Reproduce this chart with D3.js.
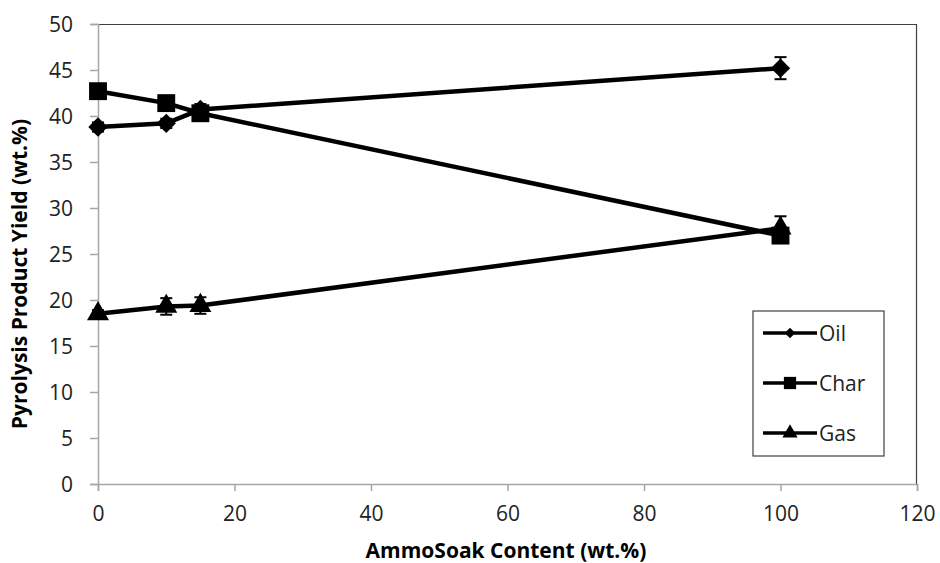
<!DOCTYPE html>
<html>
<head>
<meta charset="utf-8">
<script src="https://cdn.jsdelivr.net/npm/d3@7"></script>
<style>
  body { margin: 0; background: #fff; }
  text { font-family: 'Open Sans', sans-serif; }
</style>
</head>
<body>
<div id="chart"></div>
<script>
// AmmoSoak content (x) and yields per product
const content = [0, 10, 15, 100];
const oilYield = [38.8, 39.2, 40.7, 45.2];
const oilErr = [0.5, 0.5, 0.6, 1.2];
const charYield = [42.7, 41.4, 40.3, 27.0];
const charErr = [0.5, 0.5, 0.5, 0.6];
const gasYield = [18.5, 19.3, 19.4, 27.8];
const gasErr = [0.4, 0.9, 0.9, 1.3];
const seriesNames = ['Oil', 'Char', 'Gas'];
const xTicks = [0, 20, 40, 60, 80, 100, 120];
const yTicks = [0, 5, 10, 15, 20, 25, 30, 35, 40, 45, 50];

const W = 940, H = 563;
const margin = { top: 24, right: 23, bottom: 79, left: 98 };
const width = W - margin.left - margin.right,
  height = H - margin.top - margin.bottom;

const svg = d3.select('#chart').append('svg')
  .attr('width', W).attr('height', H);
const g = svg.append('g')
  .attr('transform', 'translate(' + margin.left + ',' + margin.top + ')');

const x = d3.scaleLinear().domain([0, 120]).range([0, width]);
const y = d3.scaleLinear().domain([0, 50]).range([height, 0]);

// Frame: top and right are dark, axes are gray
g.append('line').attr('x1', 0).attr('x2', width).attr('y1', 0.5).attr('y2', 0.5)
  .attr('stroke', '#404040').attr('stroke-width', 1.2);
g.append('line').attr('x1', width - 0.5).attr('x2', width - 0.5).attr('y1', 0).attr('y2', height)
  .attr('stroke', '#404040').attr('stroke-width', 1.2);

// X axis
const xAxis = g.append('g')
  .attr('transform', 'translate(0,' + height + ')')
  .call(d3.axisBottom(x).tickValues(xTicks).tickSize(7).tickPadding(15));
// Y axis
const yAxis = g.append('g')
  .call(d3.axisLeft(y).tickValues(yTicks).tickSize(8).tickPadding(17));
[xAxis, yAxis].forEach((a) => {
  a.select('.domain').attr('stroke', '#a6a6a6').attr('stroke-width', 1.5);
  a.selectAll('.tick line').attr('stroke', '#a6a6a6').attr('stroke-width', 1.5);
  a.selectAll('.tick text')
    .style('font-family', "'Open Sans', sans-serif")
    .style('font-size', '21px')
    .attr('fill', '#222');
});
yAxis.selectAll('.tick text').attr('dy', '0.36em');

// Axis titles
svg.append('text')
  .attr('x', 506).attr('y', 558)
  .attr('text-anchor', 'middle')
  .style('font-size', '21px').style('font-weight', 'bold')
  .text('AmmoSoak Content (wt.%)');
svg.append('text')
  .attr('transform', 'translate(27,274) rotate(-90)')
  .attr('text-anchor', 'middle')
  .style('font-size', '21px').style('font-weight', 'bold')
  .text('Pyrolysis Product Yield (wt.%)');

// Marker shapes (plot / legend)
const symbolTypes = [d3.symbolDiamond2, d3.symbolSquare, d3.symbolTriangle];
const plotSizes = [240, 320, 210];
const legendSizes = [70, 150, 100];

const series = [
  { name: seriesNames[0], vals: oilYield, errs: oilErr },
  { name: seriesNames[1], vals: charYield, errs: charErr },
  { name: seriesNames[2], vals: gasYield, errs: gasErr },
];

const line = d3.line().x((d) => x(d.x)).y((d) => y(d.y));

series.forEach((s, i) => {
  const pts = content.map((c, j) => ({ x: c, y: s.vals[j], e: s.errs[j] }));

  // Error bars
  const eb = g.append('g').attr('stroke', '#000').attr('stroke-width', 2);
  eb.selectAll(null).data(pts).enter().append('line')
    .attr('x1', (d) => x(d.x)).attr('x2', (d) => x(d.x))
    .attr('y1', (d) => y(d.y - d.e)).attr('y2', (d) => y(d.y + d.e));
  [1, -1].forEach((sign) => {
    eb.selectAll(null).data(pts).enter().append('line')
      .attr('x1', (d) => x(d.x) - 6).attr('x2', (d) => x(d.x) + 6)
      .attr('y1', (d) => y(d.y + sign * d.e))
      .attr('y2', (d) => y(d.y + sign * d.e));
  });

  // Line
  g.append('path').datum(pts)
    .attr('fill', 'none').attr('stroke', '#000').attr('stroke-width', 4.5)
    .attr('d', line);

  // Markers
  g.selectAll(null).data(pts).enter().append('path')
    .attr('transform', (d) => 'translate(' + x(d.x) + ',' + y(d.y) + ')')
    .attr('d', d3.symbol().type(symbolTypes[i]).size(plotSizes[i]))
    .attr('fill', '#000');
});

// Legend
const legend = svg.append('g');
legend.append('rect')
  .attr('x', 753).attr('y', 311).attr('width', 131).attr('height', 145)
  .attr('fill', '#fff').attr('stroke', '#404040').attr('stroke-width', 1.2);
series.forEach((s, i) => {
  const ly = 333 + i * 50;
  legend.append('line')
    .attr('x1', 763).attr('x2', 817).attr('y1', ly).attr('y2', ly)
    .attr('stroke', '#000').attr('stroke-width', 3.5);
  legend.append('path')
    .attr('transform', 'translate(790,' + ly + ')')
    .attr('d', d3.symbol().type(symbolTypes[i]).size(legendSizes[i]))
    .attr('fill', '#000');
  legend.append('text')
    .attr('x', 819).attr('y', ly).attr('dy', '0.36em')
    .style('font-size', '21px').attr('fill', '#222')
    .text(s.name);
});
</script>
</body>
</html>
